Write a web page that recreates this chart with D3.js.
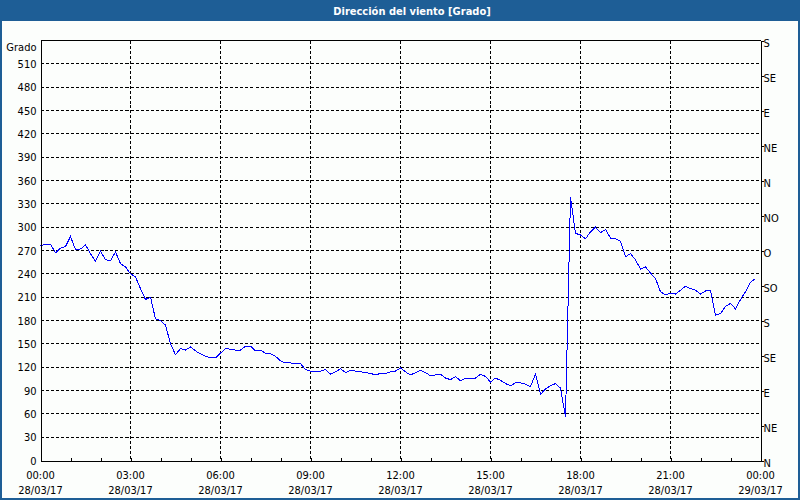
<!DOCTYPE html>
<html><head><meta charset="utf-8">
<script src="https://cdn.jsdelivr.net/npm/d3@7"></script>
<style>
html,body{margin:0;padding:0;background:#fcfefc;}
svg{display:block;}
text{font-family:"DejaVu Sans Condensed","Liberation Sans",sans-serif;}
</style></head><body>
<svg id="c" width="800" height="500"></svg>
<script>
const title = "Dirección del viento [Grado]";
const yUnit = "Grado";
const startTime = "2017-03-28T00:00:00";
const endTime = "2017-03-29T00:00:00";
const sampleMinutes = 10;
// wind direction (degrees), one value every 10 minutes from 00:00
const direction = [
 276,278,278,267,273,275,288,271,272,277,266,256,
 269,258,257,268,253,249,240,236,221,207,210,182,
 180,174,150,136,144,142,146,141,137,134,132,132,
 138,144,143,142,142,147,147,141,142,138,137,134,
 128,125.5,125.5,124.6,124.6,117,115,115,115,117,111,114,
 118,113,116,115,114,113,112,110,112,112,114,115,
 119,114,110,113,116,113,109,110,111,106,104,108,
 102.5,106,106,106,111,108,101,106,103,99,96,100,
 100,98,95,111,85,92,96,99,93,56,339,292,
 290,285,294,300,293,297,286,285,282,262,266,258,
 246,249,241,234,217,213,215,214,219,224,221,219,
 214,218,218,187,189,198,202,195,207,217,229,234
];
const leftTicks = [0,30,60,90,120,150,180,210,240,270,300,330,360,390,420,450,480,510];
const gridValues = [30,60,90,120,150,180,210,240,270,300,330,360,390,420,450,480,510];
const rightTicks = [0,45,90,135,180,225,270,315,360,405,450,495,540];
const rightLabels = ["N","NE","E","SE","S","SO","O","NO","N","NE","E","SE","S"];
const timeTickHours = [0,3,6,9,12,15,18,21,24];

const svg = d3.select("#c");
const W = 800, H = 500;
const t0 = new Date(startTime), t1 = new Date(endTime);
const data = direction.map((v,i)=>({t:new Date(t0.getTime()+i*sampleMinutes*60000), v}));

const x = d3.scaleTime().domain([t0,t1]).range([40.5,760.5]);
const y = d3.scaleLinear().domain([0,540]).range([460.5,40.5]);

// background
svg.append("rect").attr("x",0).attr("y",0).attr("width",W).attr("height",H).attr("fill","#fcfefc");
// title bar
svg.append("rect").attr("x",0).attr("y",0).attr("width",W).attr("height",21).attr("fill","#1e5e96");
svg.append("text").attr("x",412).attr("y",14.5).attr("text-anchor","middle")
  .attr("fill","#ffffff").attr("font-size","11px").attr("font-weight","bold").text(title);
// outer border
svg.append("rect").attr("x",1).attr("y",0.5).attr("width",W-2).attr("height",H-1.5)
  .attr("fill","none").attr("stroke","#1e5e96").attr("stroke-width",2);

// grid
const g = svg.append("g").attr("shape-rendering","crispEdges");
g.selectAll("line.h").data(gridValues).join("line")
  .attr("x1",x(t0)).attr("x2",x(t1)).attr("y1",d=>y(d)).attr("y2",d=>y(d))
  .attr("stroke","#000").attr("stroke-dasharray","3,2");
const vGrid = timeTickHours.slice(1,-1).map(h=>new Date(t0.getTime()+h*3600000));
g.selectAll("line.v").data(vGrid).join("line")
  .attr("x1",d=>x(d)).attr("x2",d=>x(d)).attr("y1",y(540)).attr("y2",y(0))
  .attr("stroke","#000").attr("stroke-dasharray","3,2");

// line
svg.append("path").datum(data)
  .attr("d", d3.line().x(d=>x(d.t)).y(d=>y(d.v)))
  .attr("fill","none").attr("stroke","#0000ff").attr("stroke-width",1)
  .attr("shape-rendering","crispEdges");

// frame (top + axes)
svg.append("line").attr("x1",x(t0)).attr("x2",x(t1)).attr("y1",y(540)).attr("y2",y(540))
  .attr("stroke","#000").attr("shape-rendering","crispEdges");

// left axis
const la = svg.append("g").attr("transform",`translate(${x(t0)},0)`)
  .call(d3.axisLeft(y).tickValues(leftTicks).tickSize(0).tickPadding(4));
la.select(".domain").attr("stroke","#000").attr("shape-rendering","crispEdges");
la.selectAll("text").attr("font-size","11px").attr("fill","#000").attr("font-family",null);
svg.append("text").attr("x",36.5).attr("y",y(540)+10).attr("text-anchor","end")
  .attr("font-size","11px").attr("fill","#000").text(yUnit);

// right axis
const ra = svg.append("g").attr("transform",`translate(${x(t1)},0)`)
  .call(d3.axisRight(y).tickValues(rightTicks).tickSize(3).tickPadding(0)
    .tickFormat((d,i)=>rightLabels[i]));
ra.select(".domain").attr("stroke","#000").attr("shape-rendering","crispEdges");
ra.selectAll(".tick line").attr("stroke","#000").attr("shape-rendering","crispEdges");
ra.selectAll("text").attr("font-size","11px").attr("fill","#000").attr("font-family",null).attr("dy","0.55em");

// bottom axis: minor hourly ticks pointing up
const ba = svg.append("g").attr("transform",`translate(0,${y(0)})`)
  .call(d3.axisBottom(x).ticks(d3.timeHour.every(1)).tickSize(-3).tickFormat(""));
ba.select(".domain").attr("stroke","#000").attr("shape-rendering","crispEdges");
ba.selectAll(".tick line").attr("stroke","#000").attr("shape-rendering","crispEdges");

// bottom labels (time + date)
const fmtT = d3.timeFormat("%H:%M"), fmtD = d3.timeFormat("%d/%m/%y");
const labT = timeTickHours.map(h=>new Date(t0.getTime()+h*3600000));
const bl = svg.append("g");
bl.selectAll("text.t").data(labT).join("text")
  .attr("x",d=>x(d)).attr("y",479).attr("text-anchor","middle")
  .attr("font-size","11px").attr("fill","#000").text(d=>fmtT(d));
bl.selectAll("text.d").data(labT).join("text")
  .attr("x",d=>x(d)).attr("y",494).attr("text-anchor","middle")
  .attr("font-size","11px").attr("fill","#000").text(d=>fmtD(d));
</script></body></html>
